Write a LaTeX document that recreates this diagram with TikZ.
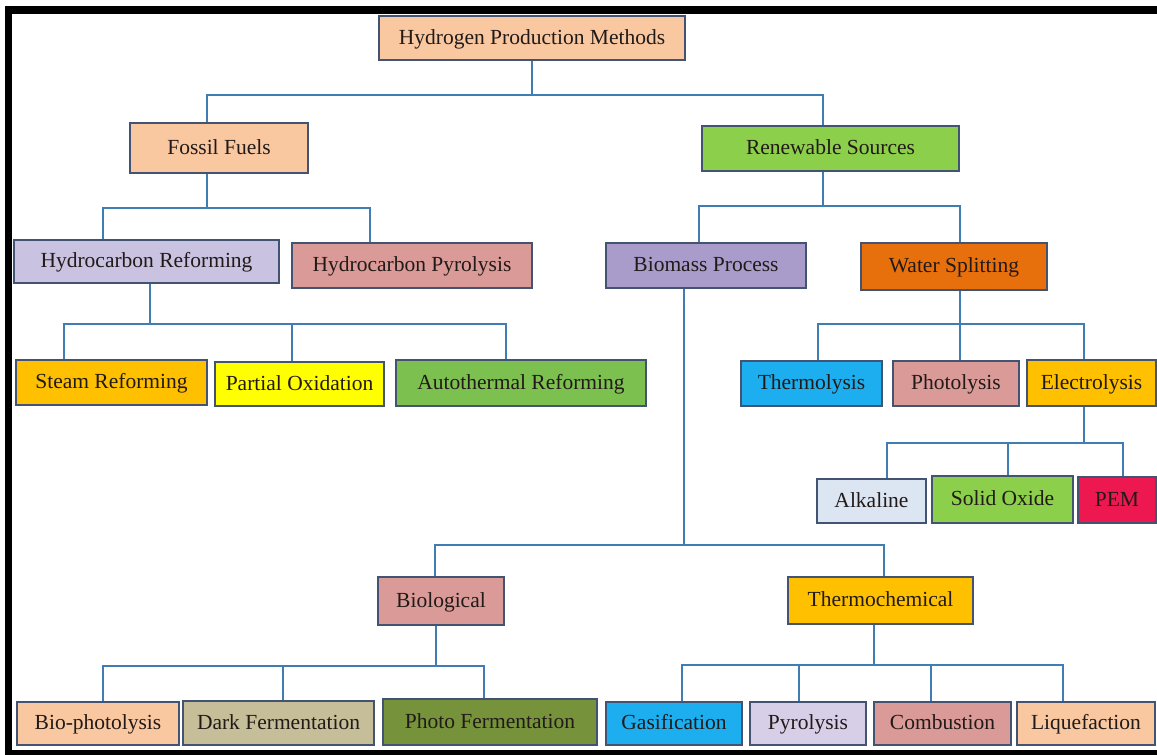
\documentclass[tikz,border=0pt]{standalone}
\usepackage{fontspec}
\setmainfont{Liberation Serif}
\definecolor{peach}{HTML}{F9C7A0}
\definecolor{lav}{HTML}{C9C2E0}
\definecolor{purp}{HTML}{A99CCB}
\definecolor{lavl}{HTML}{D7CFE8}
\definecolor{pinkc}{HTML}{DA9A98}
\definecolor{grn}{HTML}{8CCF4A}
\definecolor{grn2}{HTML}{7CC050}
\definecolor{orng}{HTML}{E8700C}
\definecolor{gold}{HTML}{FFC000}
\definecolor{yel}{HTML}{FFFF00}
\definecolor{sky}{HTML}{1CAEEE}
\definecolor{ice}{HTML}{DCE6F2}
\definecolor{crim}{HTML}{EE1850}
\definecolor{tan}{HTML}{C5BE98}
\definecolor{olive}{HTML}{76933C}
\definecolor{bord}{HTML}{435372}
\definecolor{conc}{HTML}{3F7DB3}
\definecolor{txt}{HTML}{221A18}
\tikzset{
  box/.style={draw=bord,line width=2.2pt,inner sep=0pt,text=txt,
    text height=16pt,text depth=4pt,font=\fontsize{21.5}{24}\selectfont},
  conn/.style={draw=conc,line width=1.8pt}
}
\newcommand\mkbox[7]{\node[box,fill=#6,minimum width={#4-#2},minimum height={#5-#3}] (#1) at ({(#2+#4)/2},{(#3+#5)/2}) {#7};}
\begin{document}
\begin{tikzpicture}[x=1pt,y=-1pt]
\useasboundingbox (0,0) rectangle (1157,755);
\fill[white] (0,0) rectangle (1157,755);
\fill[black] (5,6) rectangle (1157,755);
\fill[white] (12,14) rectangle (1157,750);

\mkbox{hpm}{379}{16}{685}{60}{peach}{Hydrogen Production Methods}
\mkbox{ff}{130}{123}{308}{173}{peach}{Fossil Fuels}
\mkbox{rs}{702}{126}{959}{171}{grn}{Renewable Sources}
\mkbox{hr}{14}{240}{279}{283}{lav}{Hydrocarbon Reforming}
\mkbox{hp}{292}{243}{532}{288}{pinkc}{Hydrocarbon Pyrolysis}
\mkbox{bp}{606}{243}{806}{288}{purp}{Biomass Process}
\mkbox{ws}{861}{243}{1047}{290}{orng}{Water Splitting}
\mkbox{sr}{16}{360}{207}{405}{gold}{Steam Reforming}
\mkbox{po}{215}{362}{384}{406}{yel}{Partial Oxidation}
\mkbox{ar}{396}{360}{646}{406}{grn2}{Autothermal Reforming}
\mkbox{th}{741}{361}{882}{406}{sky}{Thermolysis}
\mkbox{ph}{893}{361}{1019}{406}{pinkc}{Photolysis}
\mkbox{el}{1027}{360}{1156}{406}{gold}{Electrolysis}
\mkbox{al}{817}{479}{926}{523}{ice}{Alkaline}
\mkbox{so}{932}{476}{1073}{523}{grn}{Solid Oxide}
\mkbox{pem}{1078}{477}{1156}{523}{crim}{PEM}
\mkbox{bio}{378}{577}{504}{625}{pinkc}{Biological}
\mkbox{tc}{788}{577}{973}{624}{gold}{Thermochemical}
\mkbox{bph}{17}{702}{179}{745}{peach}{Bio-photolysis}
\mkbox{df}{183}{701}{374}{745}{tan}{Dark Fermentation}
\mkbox{pf}{383}{699}{597}{745}{olive}{Photo Fermentation}
\mkbox{ga}{606}{702}{742}{745}{sky}{Gasification}
\mkbox{py}{750}{702}{866}{745}{lavl}{Pyrolysis}
\mkbox{co}{874}{702}{1011}{745}{pinkc}{Combustion}
\mkbox{li}{1017}{702}{1155}{745}{peach}{Liquefaction}

% connectors
\draw[conn] (hpm.south) |- (207,95) -- (ff.north -| 207,0);
\draw[conn] (hpm.south) |- (823,95) -- (rs.north -| 823,0);

\draw[conn] (ff.south -| 207,0) |- (103,208) -- (hr.north -| 103,0);
\draw[conn] (ff.south -| 207,0) |- (370,208) -- (hp.north -| 370,0);

\draw[conn] (rs.south -| 823,0) |- (699,206) -- (bp.north -| 699,0);
\draw[conn] (rs.south -| 823,0) |- (960,206) -- (ws.north -| 960,0);

\draw[conn] (hr.south -| 150,0) |- (64,324) -- (sr.north -| 64,0);
\draw[conn] (hr.south -| 150,0) |- (292,324) -- (po.north -| 292,0);
\draw[conn] (hr.south -| 150,0) |- (506,324) -- (ar.north -| 506,0);

\draw[conn] (ws.south -| 960,0) |- (818,324) -- (th.north -| 818,0);
\draw[conn] (ws.south -| 960,0) -- (ph.north -| 960,0);
\draw[conn] (ws.south -| 960,0) |- (1084,324) -- (el.north -| 1084,0);

\draw[conn] (el.south -| 1084,0) |- (887,443) -- (al.north -| 887,0);
\draw[conn] (el.south -| 1084,0) |- (1008,443) -- (so.north -| 1008,0);
\draw[conn] (el.south -| 1084,0) |- (1123,443) -- (pem.north -| 1123,0);

\draw[conn] (bp.south -| 684,0) |- (435,545) -- (bio.north -| 435,0);
\draw[conn] (bp.south -| 684,0) |- (884,545) -- (tc.north -| 884,0);

\draw[conn] (bio.south -| 436,0) |- (103,666) -- (bph.north -| 103,0);
\draw[conn] (bio.south -| 436,0) |- (283,666) -- (df.north -| 283,0);
\draw[conn] (bio.south -| 436,0) |- (484,666) -- (pf.north -| 484,0);

\draw[conn] (tc.south -| 874,0) |- (682,665) -- (ga.north -| 682,0);
\draw[conn] (tc.south -| 874,0) |- (799,665) -- (py.north -| 799,0);
\draw[conn] (tc.south -| 874,0) |- (931,665) -- (co.north -| 931,0);
\draw[conn] (tc.south -| 874,0) |- (1063,665) -- (li.north -| 1063,0);
\end{tikzpicture}
\end{document}
